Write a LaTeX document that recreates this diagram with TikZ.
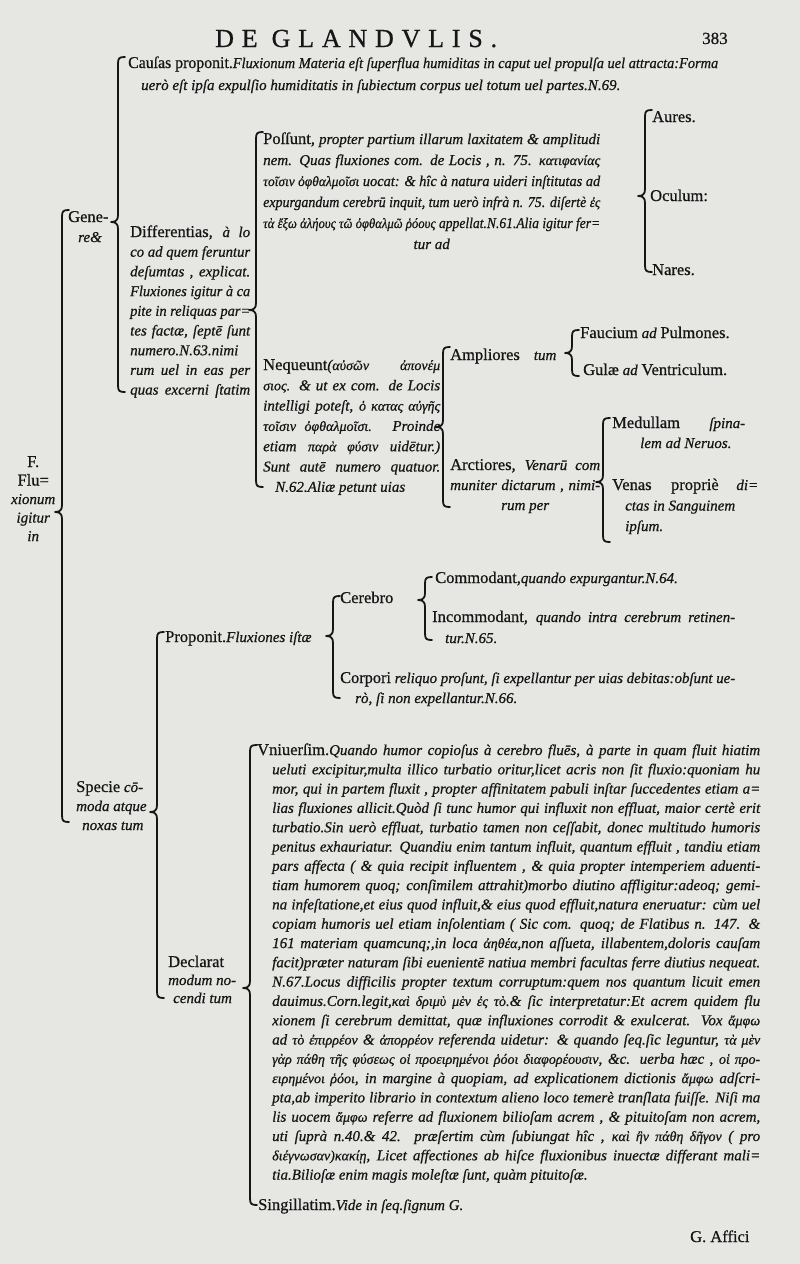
\documentclass[tikz,border=0pt]{standalone}
\usepackage{fontspec}
\usepackage{graphicx}
\setmainfont{Liberation Serif}[FakeBold=0.7]
\newfontfamily\hdrfont[LetterSpace=30,FakeBold=0.7]{Liberation Serif}
\definecolor{paper}{RGB}{230,230,227}
\definecolor{ink}{RGB}{22,22,22}
\newsavebox\jlbox
\newcommand\jl[2]{\sbox\jlbox{#2}\ifdim\wd\jlbox>#1\relax\hbox to #1{\resizebox{#1}{\height}{\usebox\jlbox}}\else\hbox to #1{#2}\fi}
\newcommand\blk[2]{\vtop{\baselineskip=#1\lineskiplimit=-100pt\lineskip=0pt #2}}
\newcommand\rmh[1]{{\upshape\fontsize{16.5}{19}\selectfont #1}}
\newcommand\gr[1]{{\fontsize{14}{14}\selectfont #1}}
\newcommand\lineL[1]{\hbox{#1}}
\newcommand\bl[1]{\jl{503pt}{\hskip15pt\relax #1}}
\newcommand\oldbrace[4]{%
 \draw[bracestyle] ({#1+7},#2) .. controls ({#1+1},#2) and (#1,{#2+1}) .. (#1,{#2+7})
  -- (#1,{#3-7}) .. controls (#1,{#3-2}) and ({#1-2},#3) .. ({#1-7},#3)
  .. controls ({#1-2},#3) and (#1,{#3+2}) .. (#1,{#3+7})
  -- (#1,{#4-7}) .. controls (#1,{#4-1}) and ({#1+1},#4) .. ({#1+7},#4);}
\begin{document}
\begin{tikzpicture}[x=1pt,y=-1pt,
  txt/.style={inner sep=0pt, anchor=base west, text=ink, font=\fontsize{15}{19}\selectfont\itshape},
  bracestyle/.style={draw=ink, line width=1.8pt, line cap=round, line join=round}]
\useasboundingbox (0,0) rectangle (800,1264);
\fill[paper] (0,0) rectangle (800,1264);

% header
\node[txt] (hdr) at (215,47) {\upshape\hdrfont\fontsize{26}{26}\selectfont DE\hspace{14pt}GLANDVLIS.};
\node[txt] (pg) at (702,44) {\upshape\fontsize{17}{17}\selectfont 383};

% Causas
\node[txt] (causas) at (128,68) {\blk{22pt}{%
 \jl{590pt}{\rmh{Cauſas proponit.}Fluxionum Materia eſt ſuperflua humiditas in caput uel propulſa uel attracta:Forma}
 \lineL{\hskip13pt\relax uerò eſt ipſa expulſio humiditatis in ſubiectum corpus uel totum uel partes.N.69.}}};

% Possunt
\node[txt] (possunt) at (263,144) {\blk{21pt}{%
 \jl{337pt}{\rmh{Poſſunt,} propter partium illarum laxitatem \& amplitudi}
 \jl{337pt}{nem. Quas fluxiones com. de Locis , n. 75. \gr{κατιφανίας}}
 \jl{337pt}{\gr{τοῖσιν ὀφθαλμοῖσι} uocat: \& hîc à natura uideri inſtitutas ad}
 \jl{337pt}{expurgandum cerebrū inquit, tum uerò infrà n. 75. diſertè \gr{ἐς}}
 \jl{337pt}{\gr{τὰ ἔξω ἀλήους τῶ ὀφθαλμῶ ῥόους} appellat.N.61.Alia igitur fer=}
 \jl{337pt}{\hfil tur ad\hfil}}};

\node[txt] (aures) at (652,122) {\rmh{Aures.}};
\node[txt] (oculum) at (650,201) {\rmh{Oculum:}};
\node[txt] (nares) at (652,275) {\rmh{Nares.}};

% Genere
\node[txt] (genere) at (68,222) {\blk{20pt}{\lineL{\rmh{Gene-}}\lineL{\hskip10pt\relax re\&}}};

% Differentias
\node[txt] (differ) at (130,237) {\blk{19.7pt}{%
 \jl{120pt}{\rmh{Differentias,} à lo}
 \jl{120pt}{co ad quem feruntur}
 \jl{120pt}{deſumtas , explicat.}
 \jl{120pt}{Fluxiones igitur à ca}
 \jl{120pt}{pite in reliquas par=}
 \jl{120pt}{tes factæ, ſeptē ſunt}
 \jl{120pt}{numero.N.63.nimi}
 \jl{120pt}{rum uel in eas per}
 \jl{120pt}{quas excerni ſtatim}}};

% Nequeunt
\node[txt] (nequeunt) at (263,370) {\blk{20.3pt}{%
 \jl{177pt}{\rmh{Nequeunt}(\gr{αὐσῶν ἀπονέμ}}
 \jl{177pt}{\gr{σιος.} \& ut ex com. de Locis}
 \jl{177pt}{intelligi poteſt, \gr{ὁ κατας αὐγῆς}}
 \jl{177pt}{\gr{τοῖσιν ὀφθαλμοῖσι.} Proinde}
 \jl{177pt}{etiam \gr{παρὰ φύσιν} uidētur.)}
 \jl{177pt}{Sunt autē numero quatuor.}
 \lineL{\hskip12pt\relax N.62.Aliæ petunt uias}}};

% Ampliores
\node[txt] (ampl) at (450,360) {\rmh{Ampliores}\hspace{14pt}tum};
\node[txt] (fauc) at (580,338) {\rmh{Faucium} ad \rmh{Pulmones.}};
\node[txt] (gula) at (583,375) {\rmh{Gulæ} ad \rmh{Ventriculum.}};

% Arctiores
\node[txt] (arct) at (450,470) {\blk{20pt}{%
 \jl{150pt}{\rmh{Arctiores,} Venarū com}
 \jl{150pt}{muniter dictarum , nimi-}
 \jl{150pt}{\hfil rum per\hfil}}};
\node[txt] (medul) at (612,428) {\blk{20pt}{%
 \jl{133pt}{\rmh{Medullam} ſpina-}
 \lineL{\hskip28pt\relax lem ad Neruos.}}};
\node[txt] (venas) at (612,490) {\blk{20.5pt}{%
 \jl{146pt}{\rmh{Venas propriè} di=}
 \lineL{\hskip13pt\relax ctas in Sanguinem}
 \lineL{\hskip13pt\relax ipſum.}}};

% root
\node[txt] (root) at (8,467) {\blk{18.5pt}{%
 \hbox to 50pt{\hfil\rmh{F.}\hfil}
 \hbox to 50pt{\hfil\rmh{Flu=}\hfil}
 \hbox to 50pt{\hfil xionum\hfil}
 \hbox to 50pt{\hfil igitur\hfil}
 \hbox to 50pt{\hfil in\hfil}}};

% Specie
\node[txt] (specie) at (76,792) {\blk{19pt}{%
 \lineL{\rmh{Specie} cō-}
 \lineL{moda atque}
 \lineL{\hskip6pt\relax noxas tum}}};

% Proponit
\node[txt] (propon) at (165,642) {\rmh{Proponit.}Fluxiones iſtæ};
\node[txt] (cerebro) at (340,603) {\rmh{Cerebro}};
\node[txt] (commod) at (435,583) {\rmh{Commodant,}quando expurgantur.N.64.};
\node[txt] (incomm) at (432,622) {\blk{21pt}{%
 \jl{303pt}{\rmh{Incommodant,} quando intra cerebrum retinen-}
 \lineL{\hskip13pt\relax tur.N.65.}}};
\node[txt] (corpori) at (340,683) {\blk{20pt}{%
 \jl{395pt}{\rmh{Corpori} reliquo proſunt, ſi expellantur per uias debitas:obſunt ue-}
 \lineL{\hskip15pt\relax rò, ſi non expellantur.N.66.}}};

% Declarat
\node[txt] (declar) at (168,967) {\blk{18pt}{%
 \lineL{\rmh{Declarat}}
 \lineL{modum no-}
 \lineL{\hskip5pt\relax cendi tum}}};

% big block
\node[txt] (vniu) at (257,755) {\blk{19.3pt}{%
 \jl{503pt}{\rmh{Vniuerſim.}Quando humor copioſus à cerebro fluēs, à parte in quam fluit hiatim}
 \bl{ueluti excipitur,multa illico turbatio oritur,licet acris non ſit fluxio:quoniam hu}
 \bl{mor, qui in partem fluxit , propter affinitatem pabuli inſtar ſuccedentes etiam a=}
 \bl{lias fluxiones allicit.Quòd ſi tunc humor qui influxit non effluat, maior certè erit}
 \bl{turbatio.Sin uerò effluat, turbatio tamen non ceſſabit, donec multitudo humoris}
 \bl{penitus exhauriatur. Quandiu enim tantum influit, quantum effluit , tandiu etiam}
 \bl{pars affecta ( \& quia recipit influentem , \& quia propter intemperiem aduenti-}
 \bl{tiam humorem quoq; conſimilem attrahit)morbo diutino affligitur:adeoq; gemi-}
 \bl{na infeſtatione,et eius quod influit,\& eius quod effluit,natura eneruatur: cùm uel}
 \bl{copiam humoris uel etiam inſolentiam ( Sic com. quoq; de Flatibus n. 147. \&}
 \bl{161 materiam quamcunq;,in loca \gr{ἀηθέα},non aſſueta, illabentem,doloris cauſam}
 \bl{facit)præter naturam ſibi euenientē natiua membri facultas ferre diutius nequeat.}
 \bl{N.67.Locus difficilis propter textum corruptum:quem nos quantum licuit emen}
 \bl{dauimus.Corn.legit,\gr{καὶ δριμὺ μὲν ἐς τὸ}.\& ſic interpretatur:Et acrem quidem flu}
 \bl{xionem ſi cerebrum demittat, quæ influxiones corrodit \& exulcerat. Vox \gr{ἄμφω}}
 \bl{ad \gr{τὸ ἐπιρρέον} \& \gr{ἀπορρέον} referenda uidetur: \& quando ſeq.ſic leguntur, \gr{τὰ μὲν}}
 \bl{\gr{γὰρ πάθη τῆς φύσεως οἱ προειρημένοι ῥόοι διαφορέουσιν}, \&c. uerba hæc , \gr{οἱ προ-}}
 \bl{\gr{ειρημένοι ῥόοι}, in margine à quopiam, ad explicationem dictionis \gr{ἄμφω} adſcri-}
 \bl{pta,ab imperito librario in contextum alieno loco temerè tranſlata fuiſſe. Niſi ma}
 \bl{lis uocem \gr{ἄμφω} referre ad fluxionem bilioſam acrem , \& pituitoſam non acrem,}
 \bl{uti ſuprà n.40.\& 42. præſertim cùm ſubiungat hîc , \gr{καὶ ἢν πάθη δῆγον} ( pro}
 \bl{\gr{διέγνωσαν)κακίῃ}, Licet affectiones ab hiſce fluxionibus inuectæ differant mali=}
 \lineL{\hskip15pt\relax tia.Bilioſæ enim magis moleſtæ ſunt, quàm pituitoſæ.}}};

\node[txt] (singul) at (258,1210) {\rmh{Singillatim.}Vide in ſeq.ſignum G.};
\node[txt] (affici) at (690,1242) {\rmh{G. Affici}};

% braces
\oldbrace{62}{210}{512}{822}
\oldbrace{118}{57}{222}{392}
\oldbrace{256}{132}{310}{487}
\oldbrace{645}{110}{196}{272}
\oldbrace{443}{347}{427}{507}
\oldbrace{572}{330}{353}{376}
\oldbrace{603}{418}{482}{542}
\oldbrace{157}{632}{812}{998}
\oldbrace{333}{596}{636}{698}
\oldbrace{425}{577}{600}{640}
\oldbrace{250}{745}{988}{1205}
\end{tikzpicture}
\end{document}
